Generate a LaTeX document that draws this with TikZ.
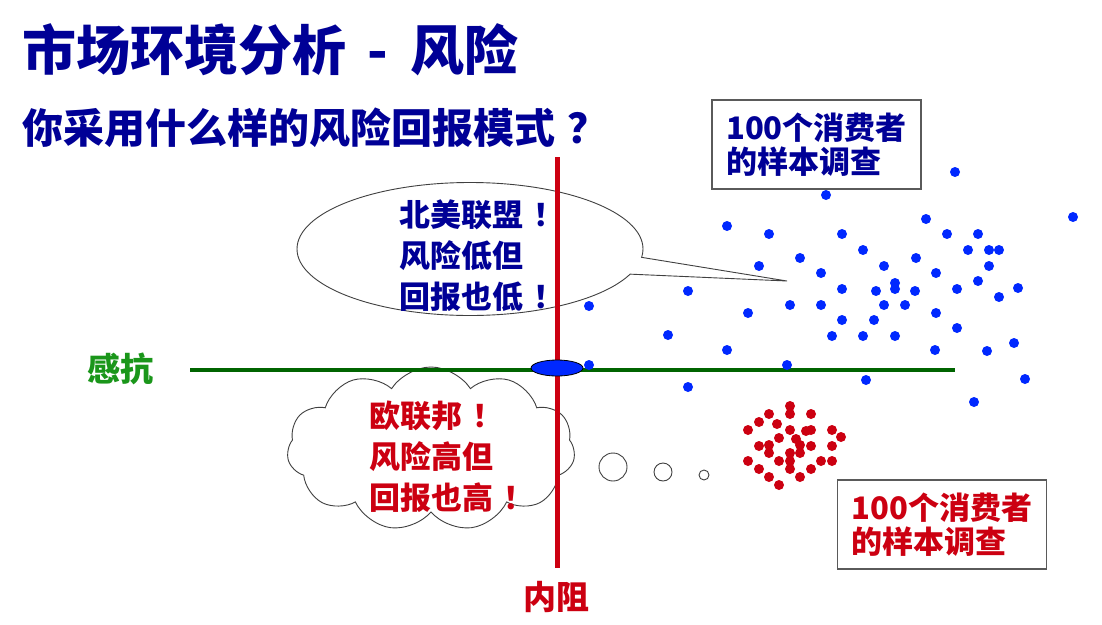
\documentclass[tikz,border=0pt]{standalone}
\usepackage{fontspec}
\newfontfamily\cjk{Noto Sans CJK SC}[BoldFont={Noto Sans CJK SC Black}]
\usetikzlibrary{shapes.geometric, shapes.callouts, shapes.symbols}
\definecolor{navy}{RGB}{0,0,150}
\definecolor{riskred}{RGB}{204,0,17}
\definecolor{labgreen}{RGB}{26,150,26}
\definecolor{axisgreen}{RGB}{0,100,0}
\definecolor{dotblue}{RGB}{0,40,255}
\definecolor{boxgray}{RGB}{90,90,90}
\newcommand{\bang}{\hspace{.3em}！}

\begin{document}
\begin{tikzpicture}[x=1pt,y=-1pt,
    big/.style={font=\cjk\bfseries\fontsize{31}{41}\selectfont, align=left, inner sep=0pt},
    samplebox/.style={draw=boxgray, line width=1.5pt, fill=white, minimum width=209pt,
        minimum height=89pt, align=left, inner sep=0pt,
        font=\cjk\bfseries\fontsize{31}{34}\selectfont},
    bubble/.style={draw=black!75, line width=0.9pt, fill=white}]

            \fill[white] (0,0) rectangle (1102,624);
            \useasboundingbox (0,0) rectangle (1102,624);

            % titles
            \node[anchor=west, inner sep=0pt, text=navy, font=\cjk\bfseries\fontsize{54}{54}\selectfont]
                (title) at (22,50) {市场环境分析\hspace{.4em}-\hspace{.4em}风险};
            \node[anchor=west, inner sep=0pt, text=navy, font=\cjk\bfseries\fontsize{41}{41}\selectfont]
                (question) at (22,128) {你采用什么样的风险回报模式\hspace{.3em}？};

            % callouts
            \node[bubble, ellipse callout, minimum width=346pt, minimum height=133pt,
                callout absolute pointer={(787,281)}] (talk) at (470,249) {};
            \node[bubble, cloud, cloud puffs=11, cloud puff arc=115, aspect=1.75,
                minimum width=288pt, minimum height=164pt] (think) at (431,449) {};
            \node[bubble, circle, minimum size=28pt, inner sep=0pt] (p1) at (613,467) {};
            \node[bubble, circle, minimum size=18pt, inner sep=0pt] (p2) at (663,472) {};
            \node[bubble, circle, minimum size=10pt, inner sep=0pt] (p3) at (704,475) {};

            % axes
            \coordinate (g1) at (190,370);
            \coordinate (g2) at (955,370);
            \coordinate (r1) at (557,157);
            \coordinate (r2) at (557,568);
            \draw[axisgreen, line width=4.5pt] (g1) -- (g2);
            \draw[riskred, line width=5pt] (r1) -- (r2);
            \node[ellipse, draw=black, fill=dotblue, line width=0.8pt, minimum width=52pt,
                minimum height=16pt, inner sep=0pt] (origin) at (557,368) {};

            \node[big, text=labgreen, font=\cjk\bfseries\fontsize{33}{33}\selectfont] (react) at (120,369) {感抗};
            \node[big, text=riskred, font=\cjk\bfseries\fontsize{33}{33}\selectfont] (resist) at (556,597) {内阻};

            % text in callouts
            \node[big, text=navy] (na) at (482,256) {北美联盟\bang\\风险低但\\回报也低\bang};
            \node[big, text=riskred] (eu) at (452,457) {欧联邦\bang\\风险高但\\回报也高\bang};

            % samples
            \foreach \x/\y in {955/172, 826/195, 1073/217, 727/226, 769/234, 842/234, 926/219,
                947/234, 978/234, 863/250, 968/250, 989/250, 999/250, 800/258, 916/258,
                884/266, 989/266, 759/266, 821/273, 936/273, 895/283, 895/289, 842/289,
                876/291, 915/291, 957/289, 978/281, 1018/288, 999/297, 688/291, 589/306,
                748/313, 790/305, 821/305, 884/305, 905/305, 936/313, 842/320, 874/320,
                957/328, 668/335, 832/336, 863/336, 895/336, 1014/343, 727/350, 935/350,
                987/351, 589/365, 787/365, 866/380, 1025/379, 688/387, 974/402}
                \fill[dotblue] (\x,\y) circle (5pt);
            \foreach \x/\y in {790/406, 790/414, 769/414, 811/414, 759/422, 777/424, 748/430,
                790/430, 806/431, 811/430, 832/430, 841/437, 779/438, 796/439, 759/446,
                769/445, 800/445, 811/446, 832/446, 769/453, 790/453, 800/453, 748/461,
                779/461, 790/461, 821/461, 832/461, 759/469, 790/469, 811/469, 769/477,
                800/477, 779/485}
                \fill[riskred] (\x,\y) circle (5pt);

            \node[samplebox, text=navy] (blueset) at (816.5,144.5) {100个消费者\\的样本调查};
            \node[samplebox, text=riskred] (redset) at (942,524.5) {100个消费者\\的样本调查};
        \end{tikzpicture}
\end{document}
